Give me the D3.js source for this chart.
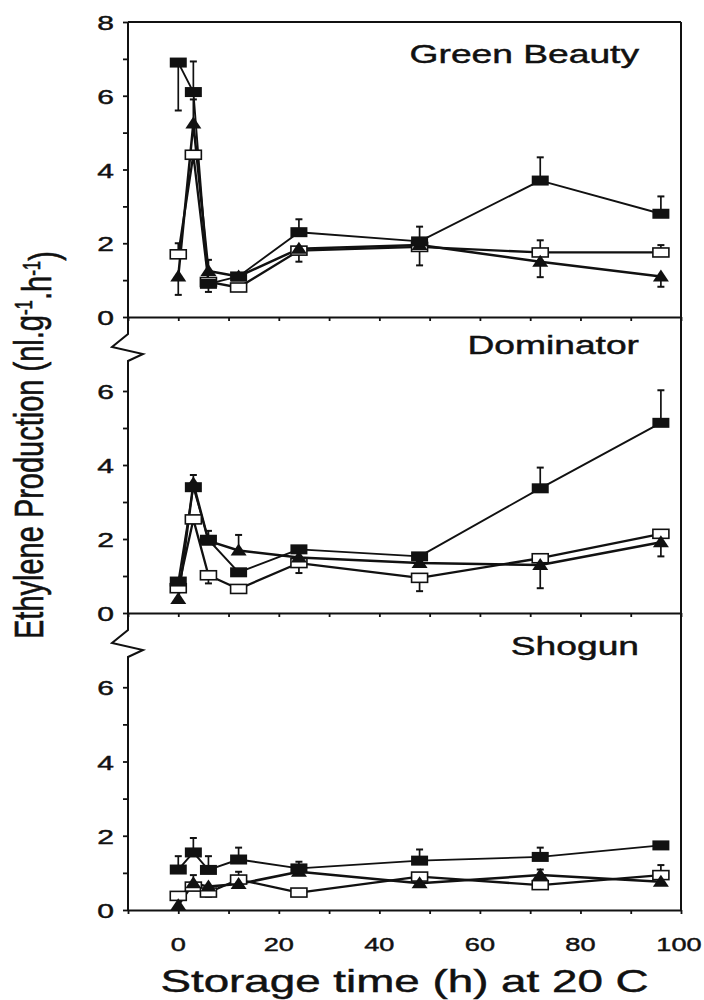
<!DOCTYPE html>
<html>
<head>
<meta charset="utf-8">
<script src="https://cdn.jsdelivr.net/npm/d3@7"></script>
<style>
  html, body { margin: 0; padding: 0; background: #fff; }
  svg { display: block; }
  text { font-family: "Liberation Sans", Arial, sans-serif; fill: #111; stroke: #111; stroke-width: 0.45px; }
</style>
</head>
<body>
<svg id="chart" width="704" height="1000"></svg>
<script>
// ---------- data ----------
const hours = [0, 3, 6, 12, 24, 48, 72, 96];
const panelNames = ["Green Beauty", "Dominator", "Shogun"];
const xTickLabels = [0, 20, 40, 60, 80, 100];
const xMinorTicks = [-10, 0, 10, 20, 30, 40, 50, 60, 70, 80, 90, 100];

// Green Beauty
const gbFilled    = [6.9, 6.1, 0.9, 1.1, 2.3, 2.05, 3.7, 2.8];
const gbFilledErr = [5.6, 6.93, 0.68, null, 2.65, 2.45, 4.33, 3.27];
const gbOpen      = [1.7, 4.4, 0.95, 0.8, 1.8, 1.9, 1.75, 1.75];
const gbOpenErr   = [2.0, null, null, null, 1.5, null, 2.08, 1.95];
const gbTri       = [1.1, 5.25, 1.25, 1.1, 1.85, 1.95, 1.5, 1.1];
const gbTriErr    = [0.6, 5.9, 1.55, null, null, 1.4, 1.08, 0.82];

// Dominator
const doFilled    = [0.85, 3.4, 1.98, 1.1, 1.72, 1.53, 3.37, 5.14];
const doFilledErr = [null, 3.73, null, null, null, null, 3.93, 6.02];
const doOpen      = [0.67, 2.53, 1.02, 0.65, 1.35, 0.95, 1.48, 2.14];
const doOpenErr   = [null, null, 0.8, null, 1.08, 0.59, null, null];
const doTri       = [0.38, 3.5, 1.95, 1.69, 1.5, 1.35, 1.3, 1.91];
const doTriErr    = [null, null, 2.22, 2.11, null, null, 0.67, 1.53];

// Shogun
const shFilled    = [1.09, 1.55, 1.08, 1.36, 1.12, 1.33, 1.43, 1.74];
const shFilledErr = [1.45, 1.94, 1.45, 1.68, 1.3, 1.63, 1.68, null];
const shOpen      = [0.38, 0.63, 0.47, 0.82, 0.47, 0.9, 0.67, 0.94];
const shOpenErr   = [null, null, null, 1.03, null, null, null, 1.21];
const shTri       = [0.13, 0.72, 0.63, 0.7, 1.03, 0.72, 0.94, 0.76];
const shTriErr    = [null, 0.94, 0.36, null, null, null, 1.09, null];

const panelData = [
  { filled: gbFilled, filledErr: gbFilledErr, open: gbOpen, openErr: gbOpenErr, tri: gbTri, triErr: gbTriErr },
  { filled: doFilled, filledErr: doFilledErr, open: doOpen, openErr: doOpenErr, tri: doTri, triErr: doTriErr },
  { filled: shFilled, filledErr: shFilledErr, open: shOpen, openErr: shOpenErr, tri: shTri, triErr: shTriErr }
];

// ---------- layout ----------
const SX = 1.43;               // horizontal stretch of the original lettering
const left = 128, right = 681;
const panelTops = [22, 317, 613];
const panelBottoms = [317, 613, 910];
const titleBaselines = [63, 354, 655];

const svg = d3.select("#chart");
const x = d3.scaleLinear().domain([-10, 100]).range([left, right]);

panelNames.forEach((name, i) => {
  const top = panelTops[i], bottom = panelBottoms[i];
  const y = d3.scaleLinear().domain([0, 8]).range([bottom, top]);
  const g = svg.append("g");
  const d = panelData[i];

  // left axis (ticks + labels)
  const yTicks = i === 0 ? d3.range(0, 9) : d3.range(0, 7);
  const ya = g.append("g").attr("transform", `translate(${left},0)`)
    .call(d3.axisLeft(y).tickValues(yTicks).tickSize(5).tickSizeOuter(0)
      .tickFormat(v => v % 2 === 0 ? v : ""));
  ya.select(".domain").remove();
  ya.selectAll(".tick line").attr("stroke", "#111").attr("stroke-width", 1.8);
  ya.selectAll(".tick text")
    .attr("x", 0).attr("dy", "0.36em")
    .attr("text-anchor", "end")
    .attr("transform", `translate(-14,0) scale(${SX},1)`)
    .style("font-size", "21px").style("font-family", "'Liberation Sans', Arial, sans-serif")
    .attr("fill", "#111");

  // left axis line, with break mark on the lower panels
  let p;
  if (i === 0) {
    p = `M${left},${top}V${bottom}`;
  } else {
    p = `M${left},${top}V${top + 17}L${left - 16},${top + 30}L${left + 15},${top + 37}L${left},${top + 44}V${bottom}`;
  }
  g.append("path").attr("d", p).attr("fill", "none").attr("stroke", "#111").attr("stroke-width", 2);

  // bottom axis of the panel (ticks outward)
  const xa = g.append("g").attr("transform", `translate(0,${bottom})`)
    .call(d3.axisBottom(x).tickValues(xMinorTicks).tickSize(4).tickSizeOuter(0).tickFormat(""));
  xa.select(".domain").attr("stroke", "#111").attr("stroke-width", 2);
  xa.selectAll(".tick line").attr("stroke", "#111").attr("stroke-width", 1.8);
  xa.selectAll(".tick text").remove();

  // panel title
  g.append("text")
    .attr("text-anchor", "end")
    .attr("transform", `translate(639,${titleBaselines[i]}) scale(${SX},1)`)
    .style("font-size", "26px")
    .text(name);

  // series
  const line = d3.line().x((v, k) => x(hours[k])).y(v => y(v));
  const series = [
    { vals: d.open, err: d.openErr, kind: "open", w: 2.3 },
    { vals: d.tri, err: d.triErr, kind: "tri", w: 2.5 },
    { vals: d.filled, err: d.filledErr, kind: "filled", w: 1.9 }
  ];
  series.forEach(s => {
    g.append("path").attr("d", line(s.vals))
      .attr("fill", "none").attr("stroke", "#111").attr("stroke-width", s.w)
      .attr("stroke-linejoin", "round");
  });
  // error bars
  series.forEach(s => {
    s.vals.forEach((v, k) => {
      const e = s.err[k];
      if (e === null) return;
      const cx = x(hours[k]);
      g.append("line").attr("x1", cx).attr("x2", cx).attr("y1", y(v)).attr("y2", y(e))
        .attr("stroke", "#111").attr("stroke-width", 1.7);
      g.append("line").attr("x1", cx - 3.5).attr("x2", cx + 3.5).attr("y1", y(e)).attr("y2", y(e))
        .attr("stroke", "#111").attr("stroke-width", 2);
    });
  });
  // markers
  series.forEach(s => {
    s.vals.forEach((v, k) => {
      const cx = x(hours[k]), cy = y(v);
      if (s.kind === "open") {
        g.append("rect").attr("x", cx - 8).attr("y", cy - 4.5).attr("width", 16).attr("height", 9)
          .attr("fill", "#fff").attr("stroke", "#111").attr("stroke-width", 1.6);
      } else if (s.kind === "filled") {
        g.append("rect").attr("x", cx - 8.5).attr("y", cy - 5).attr("width", 17).attr("height", 10)
          .attr("fill", "#111");
      } else {
        g.append("path").attr("d", `M${cx - 8},${cy + 5}L${cx + 8},${cy + 5}L${cx},${cy - 7}Z`)
          .attr("fill", "#111");
      }
    });
  });
});

// top and right frame
svg.append("line").attr("x1", left).attr("x2", right).attr("y1", panelTops[0]).attr("y2", panelTops[0])
  .attr("stroke", "#111").attr("stroke-width", 2);
svg.append("line").attr("x1", right).attr("x2", right).attr("y1", panelTops[0]).attr("y2", panelBottoms[2])
  .attr("stroke", "#111").attr("stroke-width", 2);

// x tick labels
svg.append("g").selectAll("text").data(xTickLabels).join("text")
  .attr("text-anchor", "middle")
  .attr("transform", v => `translate(${Math.min(x(v), 679)},951) scale(${SX},1)`)
  .style("font-size", "19px")
  .text(v => v);

// x title
svg.append("text")
  .attr("text-anchor", "middle")
  .attr("transform", `translate(${(left + right) / 2},992) scale(${SX},1)`)
  .style("font-size", "32px")
  .text("Storage time (h) at 20 C");

// y title
const yt = svg.append("text")
  .attr("text-anchor", "middle")
  .attr("transform", `translate(43,445) scale(${SX},1) rotate(-90)`)
  .style("font-size", "29px");
yt.append("tspan").text("Ethylene Production (nl.g");
yt.append("tspan").attr("dy", "-0.45em").style("font-size", "17px").text("-1");
yt.append("tspan").attr("dy", "0.45em").text(".h");
yt.append("tspan").attr("dy", "-0.45em").style("font-size", "17px").text("-1");
yt.append("tspan").attr("dy", "0.45em").text(")");
</script>
</body>
</html>
